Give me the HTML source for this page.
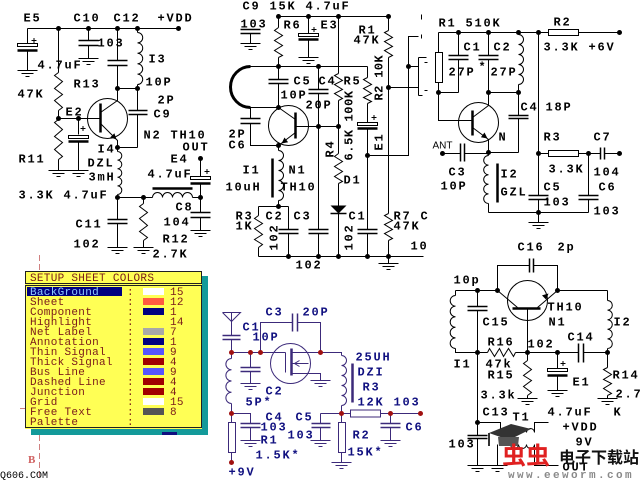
<!DOCTYPE html>
<html><head><meta charset="utf-8"><style>
html,body{margin:0;padding:0;background:#fff;}
body{width:640px;height:480px;overflow:hidden;}
svg{display:block;}
.w{stroke:#000;fill:none;stroke-width:1;}
.p{stroke:#000;fill:none;stroke-width:1.5;}
.k{stroke:#000;fill:none;stroke-width:2.5;}
.t{font-family:"Liberation Mono",monospace;font-weight:bold;font-size:12px;letter-spacing:1.8px;fill:#000;}
.n{stroke:#3c2a7a;fill:none;stroke-width:1;}
.np{stroke:#3c2a7a;fill:none;stroke-width:1.5;}
.nt{font-family:"Liberation Mono",monospace;font-weight:bold;font-size:12px;letter-spacing:1.8px;fill:#101080;}
.d{font-family:"Liberation Mono",monospace;font-size:11px;letter-spacing:0.3px;fill:#7a1a1a;}
</style></head><body>
<svg width="640" height="480" viewBox="0 0 640 480" xmlns="http://www.w3.org/2000/svg">
<rect width="640" height="480" fill="#fff"/>
<g transform="translate(0.5,0.5)">
<!-- ============ CIRCUIT 1 (top-left) ============ -->
<g class="w">
<path d="M27,28H178 M27,28V43 M27,50V70 M88,28V40 M88,45V58 M117,28V60 M117,65V100 L100,112 M137,28V32 M137,84V88 M117,88H137 M58,28V72 M58,110V119 M58,159V170 M58,118H100 M78,118V134 M78,140V170 M100,123L117,140V151 M117,147H137 M137,88V110 M137,114V147 M117,194V197 M117,197H152 M192,197H200 M200,158V176 M200,183V212 M200,217V230 M117,197V219 M117,223V247 M143,197V203 M143,240V247"/>
<polyline points="58,72 54,75 62,81 54,88 62,94 54,100 62,107 58,110"/>
<polyline points="58,119 54,122 62,129 54,136 62,142 54,149 62,156 58,159"/>
<polyline points="143,203 139,206 147,212 139,218 147,225 139,231 147,237 143,240"/>
<path d="M137,32 a5.2,5.2 0 0 1 0,10.4 a5.2,5.2 0 0 1 0,10.4 a5.2,5.2 0 0 1 0,10.4 a5.2,5.2 0 0 1 0,10.4 a5.2,5.2 0 0 1 0,10.4"/>
<path d="M117,151 a4.3,4.3 0 0 1 0,8.6 a4.3,4.3 0 0 1 0,8.6 a4.3,4.3 0 0 1 0,8.6 a4.3,4.3 0 0 1 0,8.6 a4.3,4.3 0 0 1 0,8.6"/>
<path d="M152,197 a5,5 0 0 1 10,0 a5,5 0 0 1 10,0 a5,5 0 0 1 10,0 a5,5 0 0 1 10,0"/>
<circle cx="107" cy="118" r="20"/>
<rect x="17" y="43" width="20" height="3"/><rect x="68" y="135" width="20" height="3"/><rect x="190" y="176" width="20" height="3"/>
<path d="M31,40h5M33.5,37.5v5 M80,128h5M82.5,125.5v5 M204,171h5M206.5,168.5v5"/>
<path d="M17,70H37M21,73H33M25,76H29 M78,58H98M82,61H94M86,64H90 M48,170H68M52,173H64M56,176H60 M68,170H88M72,173H84M76,176H80 M190,230H210M194,233H206M198,236H202 M107,247H127M111,250H123M115,253H119 M133,247H153M137,250H149M141,253H145"/>
</g>
<path class="p" d="M78,40H98 M78,45H98 M107,60H127 M107,65H127 M128,110H147 M128,114H147 M190,212H210 M190,217H210 M107,219H127 M107,223H127"/>
<path class="k" d="M17,50H37 M68,141H88 M190,183H210 M100,103V132 M152,188H192"/>
<polygon points="116,139 109.7,136.9 113.9,132.7" fill="#000"/>
<g fill="#000">
<circle cx="58" cy="28" r="2.5"/><circle cx="88" cy="28" r="2.5"/><circle cx="117" cy="28" r="2.5"/><circle cx="137" cy="28" r="2.5"/><circle cx="178" cy="28" r="2.5"/>
<circle cx="117" cy="88" r="2.5"/><circle cx="137" cy="88" r="2.5"/><circle cx="58" cy="118" r="2.5"/><circle cx="78" cy="118" r="2.5"/><circle cx="117" cy="147" r="2.5"/>
<circle cx="117" cy="197" r="2.5"/><circle cx="143" cy="197" r="2.5"/><circle cx="200" cy="197" r="2.5"/><circle cx="200" cy="158" r="2.5"/>
</g>
<g class="t">
<text x="23" y="21">E5</text><text x="73" y="21">C10</text><text x="113" y="21">C12</text><text x="157" y="21">+VDD</text>
<text x="97" y="46">103</text><text x="37" y="68">4.7uF</text><text x="17" y="97">47K</text><text x="73" y="87">R13</text>
<text x="148" y="62">I3</text><text x="145" y="85">10P</text><text x="157" y="103">2P</text><text x="153" y="117">C9</text>
<text x="65" y="115">E2</text><text x="143" y="138">N2 TH10</text><text x="182" y="150">OUT</text>
<text x="97" y="152">I4</text><text x="87" y="166">DZL</text><text x="88" y="180">3mH</text>
<text x="18" y="162">R11</text><text x="18" y="198">3.3K 4.7uF</text>
<text x="170" y="162">E4</text><text x="147" y="177">4.7uF</text><text x="175" y="210">C8</text><text x="163" y="225">104</text>
<text x="75" y="227">C11</text><text x="73" y="247">102</text><text x="162" y="242">R12</text><text x="152" y="257">2.7K</text>
</g>

<!-- ============ CIRCUIT 2 (top-middle) ============ -->
<g class="w">
<path d="M278,16H388 M278,16V27 M278,57V66 M308,16V33 M308,39V57 M338,16V73 M338,100V153 M338,183V205 M338,213V256 M250,66H367 M250,107H278 M278,66V79 M278,83V107 M318,66V89 M318,93V229 M318,233V256 M295,126H338 M278,107L295,119 M295,132L278,145 M250,107V118 M250,123V145H278 M278,145V150 M278,200V206 M258,206H288 M258,206V215 M258,247V256 M288,206V229 M288,233V256 M258,256H423 M367,66V77 M367,103V122 M367,128V229 M367,233V256 M367,155H408V36H418 M408,66H418 M388,87H418 M388,16V30 M388,57V213 M388,240V263 M250,33V43"/>
<polyline points="278,27 274,30 282,35 274,40 282,45 274,50 282,55 278,57"/>
<polyline points="338,73 334,75 342,80 334,84 342,89 334,93 342,98 338,100"/>
<polyline points="338,153 334,156 342,161 334,166 342,171 334,176 342,181 338,183"/>
<polyline points="367,77 363,79 371,84 363,88 371,93 363,97 371,101 367,103"/>
<polyline points="388,30 384,32 392,37 384,41 392,46 384,50 392,55 388,57"/>
<polyline points="388,213 384,215 392,220 384,224 392,229 384,233 392,238 388,240"/>
<polyline points="258,215 254,218 262,223 254,228 262,234 254,239 262,244 258,247"/>
<path d="M278,150 a5,5 0 0 1 0,10 a5,5 0 0 1 0,10 a5,5 0 0 1 0,10 a5,5 0 0 1 0,10 a5,5 0 0 1 0,10"/>
<circle cx="288" cy="125" r="20"/>
<rect x="298" y="33" width="20" height="3"/><rect x="357" y="122" width="20" height="3"/>
<path d="M311,29h5M313.5,26.5v5 M371,117h5M373.5,114.5v5"/>
<path d="M418,57V95 M418,57H426 M418,95H422 M421,14V19 M421,34V38 M424,62H427 M424,90H427"/>
<path d="M240,43H260M244,46H256M248,49H252 M298,57H318M302,60H314M306,63H310 M378,263H398M382,266H394M386,269H390"/>
</g>
<path class="p" d="M240,29H260 M240,33H260 M268,79H288 M268,83H288 M308,89H328 M308,93H328 M240,118H260 M240,123H260 M278,229H298 M278,233H298 M308,229H328 M308,233H328 M357,229H377 M357,233H377 M330,213H346"/>
<path class="k" d="M298,39H318 M357,128H377 M295,112V138 M272,158V197"/>
<path d="M250,66 A20,20.5 0 0 0 250,107" fill="none" stroke="#000" stroke-width="3"/>
<polygon points="330,205 346,205 338,213" fill="#000"/>
<polygon points="281,143 287.6,141.8 284,137" fill="#000"/>
<g fill="#000">
<circle cx="278" cy="16" r="2.5"/><circle cx="308" cy="16" r="2.5"/><circle cx="338" cy="16" r="2.5"/><circle cx="388" cy="16" r="2.5"/>
<circle cx="278" cy="66" r="2.5"/><circle cx="318" cy="66" r="2.5"/><circle cx="278" cy="107" r="2.5"/><circle cx="318" cy="126" r="2.5"/><circle cx="338" cy="126" r="2.5"/>
<circle cx="278" cy="145" r="2.5"/><circle cx="278" cy="206" r="2.5"/><circle cx="367" cy="155" r="2.5"/><circle cx="408" cy="66" r="2.5"/><circle cx="388" cy="87" r="2.5"/>
<circle cx="288" cy="256" r="2.5"/><circle cx="318" cy="256" r="2.5"/><circle cx="338" cy="256" r="2.5"/><circle cx="367" cy="256" r="2.5"/><circle cx="388" cy="256" r="2.5"/>
</g>
<g class="t">
<text x="242" y="9">C9 15K 4.7uF</text><text x="240" y="27">103</text><text x="283" y="28">R6</text><text x="320" y="28">E3</text>
<text x="358" y="33">R1</text><text x="353" y="43">47K</text>
<text x="293" y="84">C5</text><text x="318" y="84">C4</text><text x="343" y="84">R5</text>
<text x="280" y="98">10P</text><text x="305" y="108">20P</text>
<text x="228" y="137">2P</text><text x="228" y="148">C6</text>
<text x="242" y="173">I1</text><text x="288" y="173">N1</text><text x="225" y="190">10uH</text><text x="280" y="190">TH10</text>
<text x="343" y="183">D1</text>
<text x="235" y="219">R3</text><text x="235" y="229">1K</text><text x="265" y="219">C2</text><text x="293" y="219">C3</text><text x="348" y="219">C1</text>
<text x="393" y="219">R7 C</text><text x="393" y="229">47K</text><text x="410" y="249">10</text>
<text x="295" y="268">102</text>
<text transform="translate(352,160) rotate(-90)" style="letter-spacing:0.6px">6.5K 100K</text>
<text transform="translate(333,157) rotate(-90)">R4</text>
<text transform="translate(277,250) rotate(-90)">102</text>
<text transform="translate(352,250) rotate(-90)">102</text>
<text transform="translate(382,150) rotate(-90)">E1</text>
<text transform="translate(382,100) rotate(-90)" style="letter-spacing:0.4px">R2 10K</text>
</g>

<!-- ============ CIRCUIT 3 (top-right) ============ -->
<g class="w">
<path d="M438,32H548 M578,32H619 M438,32V52 M438,82V120H472 M438,92H458 M458,32V55 M458,59V92 M488,32V55 M488,59V105L472,117 M488,92H518 M518,32V34 M518,84V115 M518,118V152 M472,127L488,139V155 M488,203V212 M488,152H518 M442,153H460 M464,153H488 M488,212H588 M538,32V195 M538,199V222 M538,153H548 M578,153H600 M604,153H619 M588,153V195 M588,199V212"/>
<rect x="548" y="29" width="30" height="6"/><rect x="435" y="52" width="7" height="30"/><rect x="548" y="150" width="30" height="6"/>
<path d="M518,34 a5,5 0 0 1 0,10 a5,5 0 0 1 0,10 a5,5 0 0 1 0,10 a5,5 0 0 1 0,10 a5,5 0 0 1 0,10"/>
<path d="M488,155 a4.8,4.8 0 0 0 0,9.6 a4.8,4.8 0 0 0 0,9.6 a4.8,4.8 0 0 0 0,9.6 a4.8,4.8 0 0 0 0,9.6 a4.8,4.8 0 0 0 0,9.6"/>
<circle cx="478" cy="122" r="20"/>
<path d="M528,222H548M532,225H544M536,228H540"/>
</g>
<path class="p" d="M448,55H468 M448,59H468 M478,55H498 M478,59H498 M508,115H528 M508,118H528 M460,143V161 M464,143V161 M528,195H548 M528,199H548 M578,195H598 M578,199H598 M600,147V159 M604,147V159"/>
<path class="k" d="M472,110V135 M497,163V202"/>
<polygon points="487,138 480.4,136.8 484,132" fill="#000"/>
<g fill="#000">
<circle cx="458" cy="32" r="2.5"/><circle cx="488" cy="32" r="2.5"/><circle cx="518" cy="32" r="2.5"/><circle cx="538" cy="32" r="2.5"/><circle cx="619" cy="32" r="2.5"/>
<circle cx="438" cy="92" r="2.5"/><circle cx="488" cy="92" r="2.5"/><circle cx="518" cy="92" r="2.5"/><circle cx="442" cy="153" r="2.5"/><circle cx="488" cy="152" r="2.5"/>
<circle cx="538" cy="153" r="2.5"/><circle cx="588" cy="153" r="2.5"/><circle cx="619" cy="153" r="2.5"/><circle cx="538" cy="212" r="2.5"/>
</g>
<g class="t">
<text x="438" y="26">R1 510K</text><text x="553" y="25">R2</text><text x="543" y="50">3.3K +6V</text>
<text x="463" y="50">C1</text><text x="493" y="50">C2</text><text x="448" y="75">27P</text><text x="478" y="70">*</text><text x="490" y="75">27P</text>
<text x="520" y="110">C4</text><text x="545" y="110">18P</text><text x="498" y="140">N</text>
<text x="448" y="175">C3</text><text x="440" y="189">10P</text><text x="500" y="177">I2</text><text x="500" y="195">GZL</text>
<text x="543" y="140">R3</text><text x="593" y="140">C7</text><text x="548" y="172">3.3K</text><text x="593" y="175">104</text>
<text x="543" y="190">C5</text><text x="598" y="190">C6</text><text x="543" y="205">103</text><text x="593" y="214">103</text>
</g>
<text x="432" y="148" font-family="Liberation Sans, sans-serif" font-size="10" fill="#000">ANT</text>

<!-- ============ CIRCUIT 5 (bottom-middle, navy) ============ -->
<g class="n">
<path d="M222,312H240L231,321L222,312 M231,312V335 M231,339V358 M231,352H285 M231,403V422 M231,452V462 M250,352V367 M250,371V383 M260,352V322H292 M297,322H320V352 M285,352V372 M291,352H341V355 M291,373H320V380 M291,363H308 M341,405V422 M341,452V462 M231,413H250V423 M250,427V440 M320,413H350 M380,413H420 M320,413V423 M320,427V440 M390,413V423 M390,427V440"/>
<polyline points="299,360 294,363 299,366"/>
<rect x="228" y="422" width="7" height="30"/><rect x="338" y="422" width="7" height="30"/><rect x="350" y="409.5" width="30" height="7"/>
<path d="M231,358 a5.6,5.6 0 0 0 0,11.25 a5.6,5.6 0 0 0 0,11.25 a5.6,5.6 0 0 0 0,11.25 a5.6,5.6 0 0 0 0,11.25"/>
<path d="M341,355 a5,5 0 0 1 0,10 a5,5 0 0 1 0,10 a5,5 0 0 1 0,10 a5,5 0 0 1 0,10 a5,5 0 0 1 0,10"/>
<circle cx="290" cy="363" r="20"/>
<path d="M240,383H260M244,386H256M248,389H252 M310,380H330M314,383H326M318,386H322 M240,440H260M244,443H256M248,446H252 M310,440H330M314,443H326M318,446H322 M380,440H400M384,443H396M388,446H392 M331,462H351M335,465H347M339,468H343"/>
</g>
<path class="np" d="M222,335H240 M222,339H240 M292,313V331 M297,313V331 M240,367H260 M240,371H260 M240,423H260 M240,427H260 M311,423H330 M311,427H330 M380,423H400 M380,427H400"/>
<path d="M291,348V375 M352,363V402" stroke="#3c2a7a" stroke-width="2.5" fill="none"/>
<g fill="#a01010">
<circle cx="231" cy="352" r="2.5"/><circle cx="250" cy="352" r="2.5"/><circle cx="260" cy="352" r="2.5"/><circle cx="320" cy="352" r="2.5"/>
<circle cx="231" cy="413" r="2.5"/><circle cx="341" cy="413" r="2.5"/><circle cx="390" cy="413" r="2.5"/><circle cx="420" cy="413" r="2.5"/><circle cx="231" cy="462" r="2.5"/>
</g>
<g class="nt">
<text x="265" y="315">C3</text><text x="302" y="315">20P</text><text x="242" y="330">C1</text><text x="252" y="340">10P</text>
<text x="355" y="360">25UH</text><text x="357" y="375">DZI</text><text x="362" y="390">R3</text><text x="357" y="405">12K 103</text>
<text x="265" y="394">C2</text><text x="245" y="405">5P*</text>
<text x="265" y="420">C4</text><text x="295" y="420">C5</text><text x="405" y="430">C6</text>
<text x="260" y="430">103</text><text x="287" y="438">103</text><text x="260" y="443">R1</text><text x="352" y="438">R2</text>
<text x="255" y="458">1.5K*</text><text x="347" y="455">15K*</text><text x="228" y="475">+9V</text>
</g>

<!-- ============ CIRCUIT 6 (bottom-right) ============ -->
<g class="w">
<path d="M455,290H497 M557,290H607 M497,290V265H529 M533,265H557V290 M497,290L517,307 M537,307L557,290 M527,308V352 M455,290V295 M455,348V352H487 M515,352H578 M583,352H607 M607,290V300 M607,348V367 M607,395V398 M477,290V306 M477,310V435 M477,438V465 M527,352V360 M527,395V398 M557,352V368 M557,375V390 M477,422H500V432H510 M534,432V422H548 M500,444H510 M497,444V465 M534,444V465H558"/>
<polyline points="487,352 489,348 494,356 499,348 503,356 508,348 513,356 515,352"/>
<polyline points="527,360 523,363 531,369 523,375 531,380 523,386 531,392 527,395"/>
<polyline points="607,367 603,369 611,374 603,379 611,383 603,388 611,393 607,395"/>
<path d="M455,295 a5.3,5.3 0 0 0 0,10.6 a5.3,5.3 0 0 0 0,10.6 a5.3,5.3 0 0 0 0,10.6 a5.3,5.3 0 0 0 0,10.6 a5.3,5.3 0 0 0 0,10.6"/>
<path d="M607,300 a4.8,4.8 0 0 1 0,9.6 a4.8,4.8 0 0 1 0,9.6 a4.8,4.8 0 0 1 0,9.6 a4.8,4.8 0 0 1 0,9.6 a4.8,4.8 0 0 1 0,9.6"/>
<path d="M510,432 a4,4 0 0 1 8,0 a4,4 0 0 1 8,0 a4,4 0 0 1 8,0 M510,444 a4,4 0 0 0 8,0 a4,4 0 0 0 8,0 a4,4 0 0 0 8,0"/>
<circle cx="527" cy="300" r="20"/>
<rect x="547" y="368" width="20" height="3"/>
<path d="M560,363h5M562.5,360.5v5"/>
<path d="M517,398H537M521,401H533M525,404H529 M547,390H567M551,393H563M555,396H559 M597,398H617M601,401H613M605,404H609 M467,465H487M471,468H483M475,471H479 M487,465H507M491,468H503M495,471H499"/>
</g>
<path class="p" d="M529,258V272 M533,258V272 M467,306H487 M467,310H487 M578,343V362 M583,343V362 M467,435H487 M467,438H487"/>
<path class="k" d="M547,375H567 M512,308H540"/>
<polygon points="548,293 545.7,299.3 541.5,294.9" fill="#000"/>
<g fill="#000">
<circle cx="477" cy="290" r="2.5"/><circle cx="497" cy="290" r="2.5"/><circle cx="557" cy="290" r="2.5"/>
<circle cx="477" cy="352" r="2.5"/><circle cx="527" cy="352" r="2.5"/><circle cx="557" cy="352" r="2.5"/><circle cx="607" cy="352" r="2.5"/><circle cx="477" cy="422" r="2.5"/>
</g>
<g class="t">
<text x="517" y="250">C16</text><text x="557" y="250">2p</text><text x="453" y="283">10p</text>
<text x="547" y="310">TH10</text><text x="548" y="325">N1</text><text x="482" y="325">C15</text><text x="613" y="325">I2</text>
<text x="487" y="345">R16</text><text x="527" y="347">102</text><text x="567" y="340">C14</text>
<text x="453" y="367">I1</text><text x="485" y="367">47k</text><text x="487" y="378">R15</text><text x="612" y="378">R14</text><text x="572" y="385">E1</text>
<text x="480" y="398">3.3k</text><text x="615" y="397">2.7</text>
<text x="482" y="415">C13</text><text x="613" y="415">K</text><text x="547" y="415">4.7uF</text><text x="512" y="420">T1</text>
<text x="562" y="430">+VDD</text><text x="575" y="445">9V</text><text x="562" y="470">OUT</text><text x="448" y="447">103</text>
</g>
</g>

<!-- ============ DIALOG ============ -->
<path d="M39.5,255V270 M39.5,435V480 M20,408.5H25" stroke="#d08080" stroke-width="1" stroke-dasharray="6,3" fill="none"/>
<rect x="31" y="276" width="177" height="159" fill="#139a9a"/>
<rect x="162" y="432" width="15" height="3" fill="#101080"/>
<rect x="25" y="271" width="177" height="158" fill="#ffff55"/>
<rect x="25.5" y="271.5" width="176" height="12" fill="none" stroke="#202020" stroke-width="1"/>
<rect x="25.5" y="285.5" width="176" height="142" fill="none" stroke="#202020" stroke-width="1"/>
<rect x="27" y="287" width="95" height="9" fill="#000080"/>
<g class="d">
<text x="30" y="281">SETUP SHEET COLORS</text>
<text x="30" y="295" fill="#8cc8ff">BackGround</text>
<text x="30" y="305">Sheet</text><text x="30" y="315">Component</text><text x="30" y="325">Highlight</text>
<text x="30" y="335">Net Label</text><text x="30" y="345">Annotation</text><text x="30" y="355">Thin Signal</text>
<text x="30" y="365">Thick Signal</text><text x="30" y="375">Bus Line</text><text x="30" y="385">Dashed Line</text>
<text x="30" y="395">Junction</text><text x="30" y="405">Grid</text><text x="30" y="415">Free Text</text><text x="30" y="425">Palette</text>
<text x="127" y="295">:</text><text x="127" y="305">:</text><text x="127" y="315">:</text><text x="127" y="325">:</text><text x="127" y="335">:</text><text x="127" y="345">:</text><text x="127" y="355">:</text>
<text x="127" y="365">:</text><text x="127" y="375">:</text><text x="127" y="385">:</text><text x="127" y="395">:</text><text x="127" y="405">:</text><text x="127" y="415">:</text><text x="127" y="425">:</text>
<text x="170" y="295">15</text><text x="170" y="305">12</text><text x="170" y="315">1</text><text x="170" y="325">14</text><text x="170" y="335">7</text><text x="170" y="345">1</text><text x="170" y="355">9</text>
<text x="170" y="365">4</text><text x="170" y="375">9</text><text x="170" y="385">4</text><text x="170" y="395">4</text><text x="170" y="405">15</text><text x="170" y="415">8</text>
</g>
<rect x="143" y="288" width="21" height="7" fill="#ffffff"/>
<rect x="143" y="298" width="21" height="7" fill="#ff5a40"/>
<rect x="143" y="308" width="21" height="7" fill="#000080"/>
<rect x="143" y="328" width="21" height="7" fill="#a8a8a8"/>
<rect x="143" y="338" width="21" height="7" fill="#000080"/>
<rect x="143" y="348" width="21" height="7" fill="#5555ff"/>
<rect x="143" y="358" width="21" height="7" fill="#a00000"/>
<rect x="143" y="368" width="21" height="7" fill="#5555ff"/>
<rect x="143" y="378" width="21" height="7" fill="#a00000"/>
<rect x="143" y="388" width="21" height="7" fill="#a00000"/>
<rect x="143" y="398" width="21" height="7" fill="#ffffff"/>
<rect x="143" y="408" width="21" height="7" fill="#555555"/>
<text x="28" y="463" font-family="Liberation Serif, serif" font-weight="bold" font-size="11" fill="#d06060">B</text>
<text x="0" y="478" font-family="Liberation Mono, monospace" font-size="10" fill="#000">Q606.COM</text>

<!-- watermark -->
<polygon points="489,433 511,424 531,429 509,440" fill="#333"/>
<polygon points="498,437 519,437 518,446 499,446" fill="#555"/>
<path d="M489,433V446" stroke="#333" stroke-width="2"/>
<text x="502" y="464" font-family="'Noto Sans CJK SC','WenQuanYi Zen Hei',sans-serif" font-weight="bold" font-size="24" fill="#e02020">虫虫</text>
<text x="559" y="463" font-family="'Noto Sans CJK SC','WenQuanYi Zen Hei',sans-serif" font-weight="bold" font-size="16" fill="#111">电子下载站</text>
<text x="508" y="478" font-family="'Liberation Mono',monospace" font-weight="bold" font-size="11" letter-spacing="2.4" fill="#8a8a8a">www.eeworm.com</text>
</svg>
</body></html>
